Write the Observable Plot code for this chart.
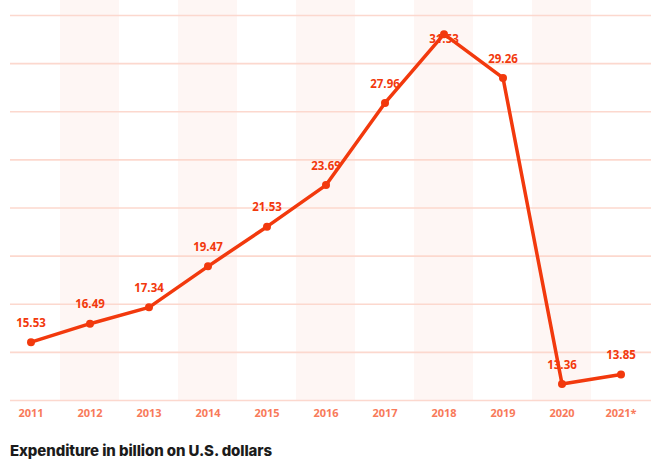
<!DOCTYPE html>
<html>
<head>
<meta charset="utf-8">
<script src="https://cdn.jsdelivr.net/npm/d3@7"></script>
<script src="https://cdn.jsdelivr.net/npm/@observablehq/plot@0.6"></script>
<style>
  html, body { margin: 0; padding: 0; background: #ffffff; }
  #chart { width: 651px; }
  #caption {
    font-family: Inter, "Open Sans", sans-serif;
    font-weight: 800;
    font-size: 15px;
    color: #1b1b1b;
    margin: 0;
    padding-left: 10px;
    line-height: 20px;
    margin-top: 9px;
    letter-spacing: -0.1px;
  }
</style>
</head>
<body>
<div id="chart"></div>
<div id="caption">Expenditure in billion on U.S. dollars</div>
<script>
const years = ["2011","2012","2013","2014","2015","2016","2017","2018","2019","2020","2021*"];
const expenditure = [15.53, 16.49, 17.34, 19.47, 21.53, 23.69, 27.96, 31.53, 29.26, 13.36, 13.85];
const gridTicks = [12.5, 15, 17.5, 20, 22.5, 25, 27.5, 30, 32.5];

const data = years.map((y, i) => ({year: y, value: expenditure[i]}));
const shaded = years.filter((d, i) => i % 2 === 1);
const maxVal = d3.max(expenditure);

const lineColor = "#f2390d";

const plot = Plot.plot({
  width: 651,
  height: 432,
  marginLeft: 0,
  marginRight: 0,
  marginTop: 0,
  marginBottom: 32,
  style: {background: "transparent"},
  x: {type: "band", domain: years, padding: 0, label: null},
  y: {domain: [12.5, 33.28], axis: null},
  marks: [
    Plot.cell(shaded, {x: d => d, fill: "#fef6f4"}),
    Plot.ruleY(gridTicks, {stroke: "#fcd8ce", strokeWidth: 1.6, insetLeft: 10}),
    Plot.line(data, {x: "year", y: "value", stroke: lineColor, strokeWidth: 3.5, strokeLinejoin: "round"}),
    Plot.dot(data, {x: "year", y: "value", r: 4, fill: lineColor, stroke: null}),
    Plot.text(data.filter(d => d.value !== maxVal), {
      x: "year", y: "value", text: d => d.value.toFixed(2), dy: -19,
      fill: lineColor, fontSize: 11.5, fontWeight: "bold", fontFamily: "Open Sans, sans-serif"
    }),
    Plot.text(data.filter(d => d.value === maxVal), {
      x: "year", y: "value", text: d => d.value.toFixed(2), dy: 5,
      fill: lineColor, fontSize: 11.5, fontWeight: "bold", fontFamily: "Open Sans, sans-serif"
    }),
    Plot.axisX({
      tickSize: 0, tickPadding: 9, label: null,
      color: "#f87a5a", fontSize: 11, fontWeight: "bold", fontFamily: "Open Sans, sans-serif"
    })
  ]
});
document.getElementById("chart").appendChild(plot);
</script>
</body>
</html>
